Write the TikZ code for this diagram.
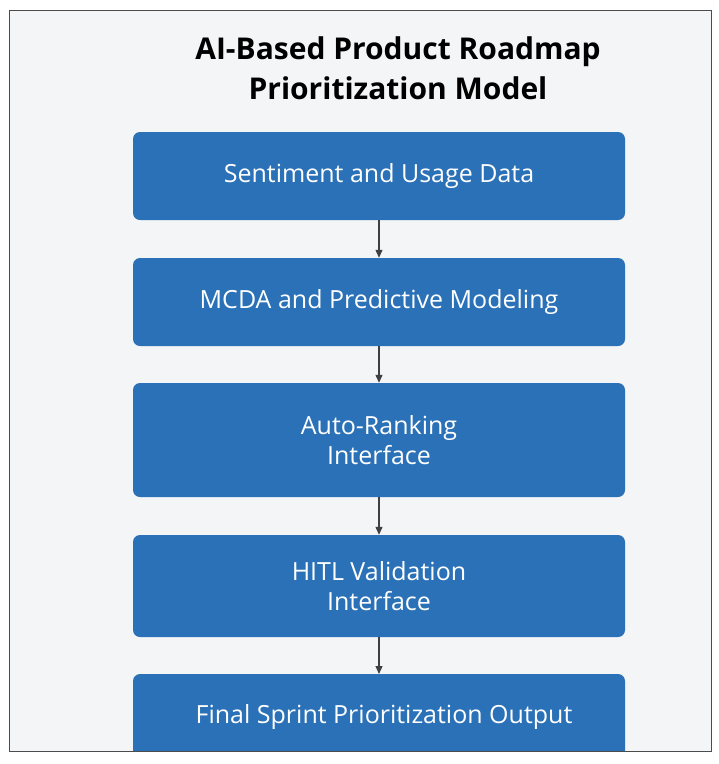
\documentclass[tikz,border=0pt]{standalone}
\usepackage{fontspec}
\setmainfont{Open Sans}
\usetikzlibrary{arrows.meta}
\definecolor{boxblue}{HTML}{2A71B7}
\definecolor{bg}{HTML}{F4F5F6}
\tikzset{
  stepbox/.style={fill=boxblue,rounded corners=7pt,text=white,font=\fontsize{25}{30}\selectfont,align=center,minimum width=492pt,inner sep=0pt},
  conn/.style={draw=black!75,line width=1.2pt,-{Triangle[length=8pt,width=7pt]}}
}
\begin{document}
\begin{tikzpicture}[x=1pt,y=-1pt]
\useasboundingbox (0,0) rectangle (719,764);
\fill[white] (0,0) rectangle (719,764);
\fill[bg] (9,10) rectangle (711,751);
\begin{scope}
\clip (9,10) rectangle (711,751);
\node[stepbox,minimum height=88pt] (a) at (379,176) {Sentiment and Usage Data};
\node[stepbox,minimum height=88pt] (b) at (379,302) {MCDA and Predictive Modeling};
\node[stepbox,minimum height=114pt] (c) at (379,440) {Auto-Ranking\\Interface};
\node[stepbox,minimum height=102pt] (d) at (379,586) {HITL Validation\\Interface};
\fill[boxblue,rounded corners=7pt] (133,674) rectangle (625,790);
\node[text=white,font=\fontsize{25}{30}\selectfont] (e) at (384,717) {Final Sprint Prioritization Output};
\coordinate (et) at (379,674);
\end{scope}
\draw[black!70,line width=0.8pt] (9,10) rectangle (711,751);
\node[font=\bfseries\fontsize{30}{40}\selectfont,align=center] (t) at (398,68) {AI-Based Product Roadmap\\Prioritization Model};
\draw[conn] (a) -- (b);
\draw[conn] (b) -- (c);
\draw[conn] (c) -- (d);
\draw[conn] (d) -- (et);
\end{tikzpicture}
\end{document}
